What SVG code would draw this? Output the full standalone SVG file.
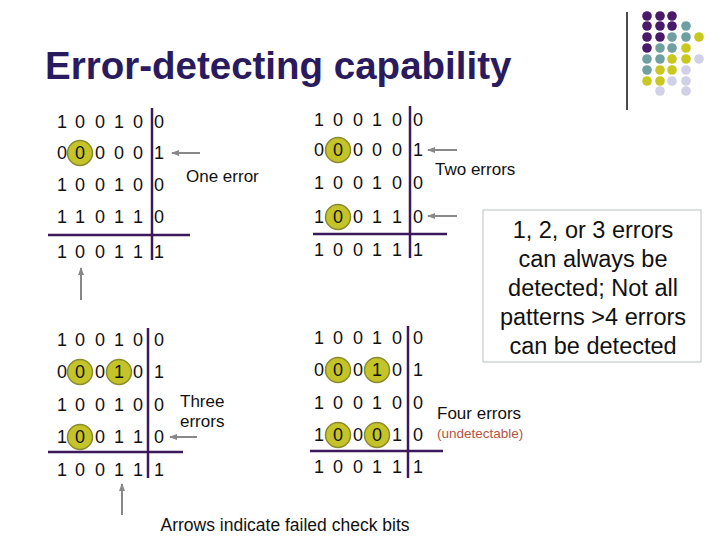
<svg xmlns="http://www.w3.org/2000/svg" width="720" height="540" viewBox="0 0 720 540">
<style>
.d{font-family:"Liberation Sans",Arial,sans-serif;font-size:18px;fill:#111;text-anchor:middle}
.l{font-family:"Liberation Sans",Arial,sans-serif;font-size:17px;fill:#111}
.ln{stroke:#3a1a5a;stroke-width:2.5}
.ar{stroke:#888;stroke-width:2;marker-end:url(#ah)}
.c{fill:#c4c428;stroke:#8a8a30;stroke-width:1.5}
.P{fill:#4a1a6a}.T{fill:#6f9fa0}.Y{fill:#c8c820}.L{fill:#d0d0e6}
</style>
<defs><marker id="ah" markerWidth="8" markerHeight="8" refX="7" refY="4" orient="auto" markerUnits="userSpaceOnUse"><path d="M0,1 L8,4 L0,7z" fill="#888"/></marker></defs>
<rect width="720" height="540" fill="#fff"/>
<text x="45" y="79" font-family="Liberation Sans,Arial,sans-serif" font-size="38.5" font-weight="bold" fill="#2a1a5e">Error-detecting capability</text>
<g id="deco">
<line x1="627" y1="12" x2="627" y2="110" stroke="#111" stroke-width="1.5"/>
<g>
<circle class="P" cx="647" cy="16" r="4.8"/><circle class="P" cx="660" cy="16" r="4.8"/><circle class="P" cx="672" cy="16" r="4.8"/>
<circle class="P" cx="647" cy="26" r="4.8"/><circle class="P" cx="660" cy="26" r="4.8"/><circle class="P" cx="672" cy="26" r="4.8"/><circle class="T" cx="686" cy="26" r="4.8"/>
<circle class="P" cx="647" cy="37" r="4.8"/><circle class="P" cx="660" cy="37" r="4.8"/><circle class="T" cx="672" cy="37" r="4.8"/><circle class="T" cx="686" cy="37" r="4.8"/><circle class="Y" cx="699" cy="37" r="4.8"/>
<circle class="P" cx="647" cy="48" r="4.8"/><circle class="T" cx="660" cy="48" r="4.8"/><circle class="T" cx="672" cy="48" r="4.8"/><circle class="Y" cx="686" cy="48" r="4.8"/>
<circle class="T" cx="647" cy="59" r="4.8"/><circle class="T" cx="660" cy="59" r="4.8"/><circle class="Y" cx="672" cy="59" r="4.8"/><circle class="Y" cx="686" cy="59" r="4.8"/><circle class="L" cx="699" cy="59" r="4.8"/>
<circle class="T" cx="647" cy="70" r="4.8"/><circle class="Y" cx="660" cy="70" r="4.8"/><circle class="Y" cx="672" cy="70" r="4.8"/><circle class="L" cx="686" cy="70" r="4.8"/>
<circle class="Y" cx="647" cy="81" r="4.8"/><circle class="Y" cx="660" cy="81" r="4.8"/><circle class="L" cx="672" cy="81" r="4.8"/><circle class="L" cx="686" cy="81" r="4.8"/>
<circle class="L" cx="660" cy="91" r="4.8"/><circle class="L" cx="686" cy="91" r="4.8"/>
</g>
</g>
<g id="m1">
<circle class="c" cx="80" cy="153" r="12.5"/>
<g class="d">
<text x="62" y="128">1</text><text x="80" y="128">0</text><text x="100" y="128">0</text><text x="119" y="128">1</text><text x="138" y="128">0</text><text x="159" y="128">0</text>
<text x="62" y="159">0</text><text x="80" y="159">0</text><text x="100" y="159">0</text><text x="119" y="159">0</text><text x="138" y="159">0</text><text x="159" y="159">1</text>
<text x="62" y="191">1</text><text x="80" y="191">0</text><text x="100" y="191">0</text><text x="119" y="191">1</text><text x="138" y="191">0</text><text x="159" y="191">0</text>
<text x="62" y="223">1</text><text x="80" y="223">1</text><text x="100" y="223">0</text><text x="119" y="223">1</text><text x="138" y="223">1</text><text x="159" y="223">0</text>
<text x="62" y="258">1</text><text x="80" y="258">0</text><text x="100" y="258">0</text><text x="119" y="258">1</text><text x="138" y="258">1</text><text x="159" y="258">1</text>
</g>
<line class="ln" x1="152" y1="108" x2="152" y2="260"/><line class="ln" x1="48" y1="235" x2="190" y2="235"/>
<text class="l" x="186" y="182">One error</text>
</g>
<g id="m2">
<circle class="c" cx="338" cy="150" r="12.5"/><circle class="c" cx="338" cy="217" r="12.5"/>
<g class="d">
<text x="319" y="126">1</text><text x="338" y="126">0</text><text x="358" y="126">0</text><text x="377" y="126">1</text><text x="397" y="126">0</text><text x="418" y="126">0</text>
<text x="319" y="156">0</text><text x="338" y="156">0</text><text x="358" y="156">0</text><text x="377" y="156">0</text><text x="397" y="156">0</text><text x="418" y="156">1</text>
<text x="319" y="189">1</text><text x="338" y="189">0</text><text x="358" y="189">0</text><text x="377" y="189">1</text><text x="397" y="189">0</text><text x="418" y="189">0</text>
<text x="319" y="223">1</text><text x="338" y="223">0</text><text x="358" y="223">0</text><text x="377" y="223">1</text><text x="397" y="223">1</text><text x="418" y="223">0</text>
<text x="319" y="256">1</text><text x="338" y="256">0</text><text x="358" y="256">0</text><text x="377" y="256">1</text><text x="397" y="256">1</text><text x="418" y="256">1</text>
</g>
<line class="ln" x1="410" y1="106" x2="410" y2="258"/><line class="ln" x1="313" y1="234" x2="447" y2="234"/>
<text class="l" x="435" y="175">Two errors</text>
</g>
<g id="m3">
<circle class="c" cx="80" cy="372" r="12.5"/><circle class="c" cx="119" cy="372" r="12.5"/><circle class="c" cx="80" cy="437" r="12.5"/>
<g class="d">
<text x="62" y="346">1</text><text x="80" y="346">0</text><text x="100" y="346">0</text><text x="119" y="346">1</text><text x="138" y="346">0</text><text x="159" y="346">0</text>
<text x="62" y="378">0</text><text x="80" y="378">0</text><text x="100" y="378">0</text><text x="119" y="378">1</text><text x="138" y="378">0</text><text x="159" y="378">1</text>
<text x="62" y="411">1</text><text x="80" y="411">0</text><text x="100" y="411">0</text><text x="119" y="411">1</text><text x="138" y="411">0</text><text x="159" y="411">0</text>
<text x="62" y="443">1</text><text x="80" y="443">0</text><text x="100" y="443">0</text><text x="119" y="443">1</text><text x="138" y="443">1</text><text x="159" y="443">0</text>
<text x="62" y="476">1</text><text x="80" y="476">0</text><text x="100" y="476">0</text><text x="119" y="476">1</text><text x="138" y="476">1</text><text x="159" y="476">1</text>
</g>
<line class="ln" x1="148" y1="328" x2="148" y2="478"/><line class="ln" x1="48" y1="452" x2="183" y2="452"/>
<text class="l" x="180" y="407">Three</text><text class="l" x="180" y="427">errors</text>
</g>
<g id="m4">
<circle class="c" cx="338" cy="370" r="12.5"/><circle class="c" cx="377" cy="370" r="12.5"/><circle class="c" cx="338" cy="435" r="12.5"/><circle class="c" cx="377" cy="435" r="12.5"/>
<g class="d">
<text x="319" y="344">1</text><text x="338" y="344">0</text><text x="358" y="344">0</text><text x="377" y="344">1</text><text x="397" y="344">0</text><text x="418" y="344">0</text>
<text x="319" y="376">0</text><text x="338" y="376">0</text><text x="358" y="376">0</text><text x="377" y="376">1</text><text x="397" y="376">0</text><text x="418" y="376">1</text>
<text x="319" y="409">1</text><text x="338" y="409">0</text><text x="358" y="409">0</text><text x="377" y="409">1</text><text x="397" y="409">0</text><text x="418" y="409">0</text>
<text x="319" y="441">1</text><text x="338" y="441">0</text><text x="358" y="441">0</text><text x="377" y="441">0</text><text x="397" y="441">1</text><text x="418" y="441">0</text>
<text x="319" y="473">1</text><text x="338" y="473">0</text><text x="358" y="473">0</text><text x="377" y="473">1</text><text x="397" y="473">1</text><text x="418" y="473">1</text>
</g>
<line class="ln" x1="408" y1="326" x2="408" y2="478"/><line class="ln" x1="310" y1="451" x2="443" y2="451"/>
<text class="l" x="437" y="419">Four errors</text>
<text x="437" y="438" font-family="Liberation Sans,Arial,sans-serif" font-size="13.5" fill="#b5533c">(undetectable)</text>
</g>
<g id="note">
<rect x="483" y="210" width="218" height="152" fill="#fff" stroke="#b8c0c0" stroke-width="1"/>
<g font-family="Liberation Sans,Arial,sans-serif" font-size="23.5" fill="#111" text-anchor="middle">
<text x="593" y="238">1, 2, or 3 errors</text><text x="593" y="267">can always be</text><text x="593" y="296">detected;  Not all</text><text x="593" y="325">patterns &gt;4  errors</text><text x="593" y="354">can be detected</text>
</g>
</g>
<text x="285" y="531" font-family="Liberation Sans,Arial,sans-serif" font-size="17.5" fill="#111" text-anchor="middle">Arrows indicate failed check bits</text>
<g id="connectors">
<line class="ar" x1="200" y1="153" x2="172" y2="153"/>
<line class="ar" x1="81" y1="300" x2="81" y2="268"/>
<line class="ar" x1="457" y1="150" x2="428" y2="150"/>
<line class="ar" x1="457" y1="216" x2="428" y2="216"/>
<line class="ar" x1="197" y1="437" x2="170" y2="437"/>
<line class="ar" x1="122" y1="515" x2="122" y2="484"/>
</g>
</svg>
